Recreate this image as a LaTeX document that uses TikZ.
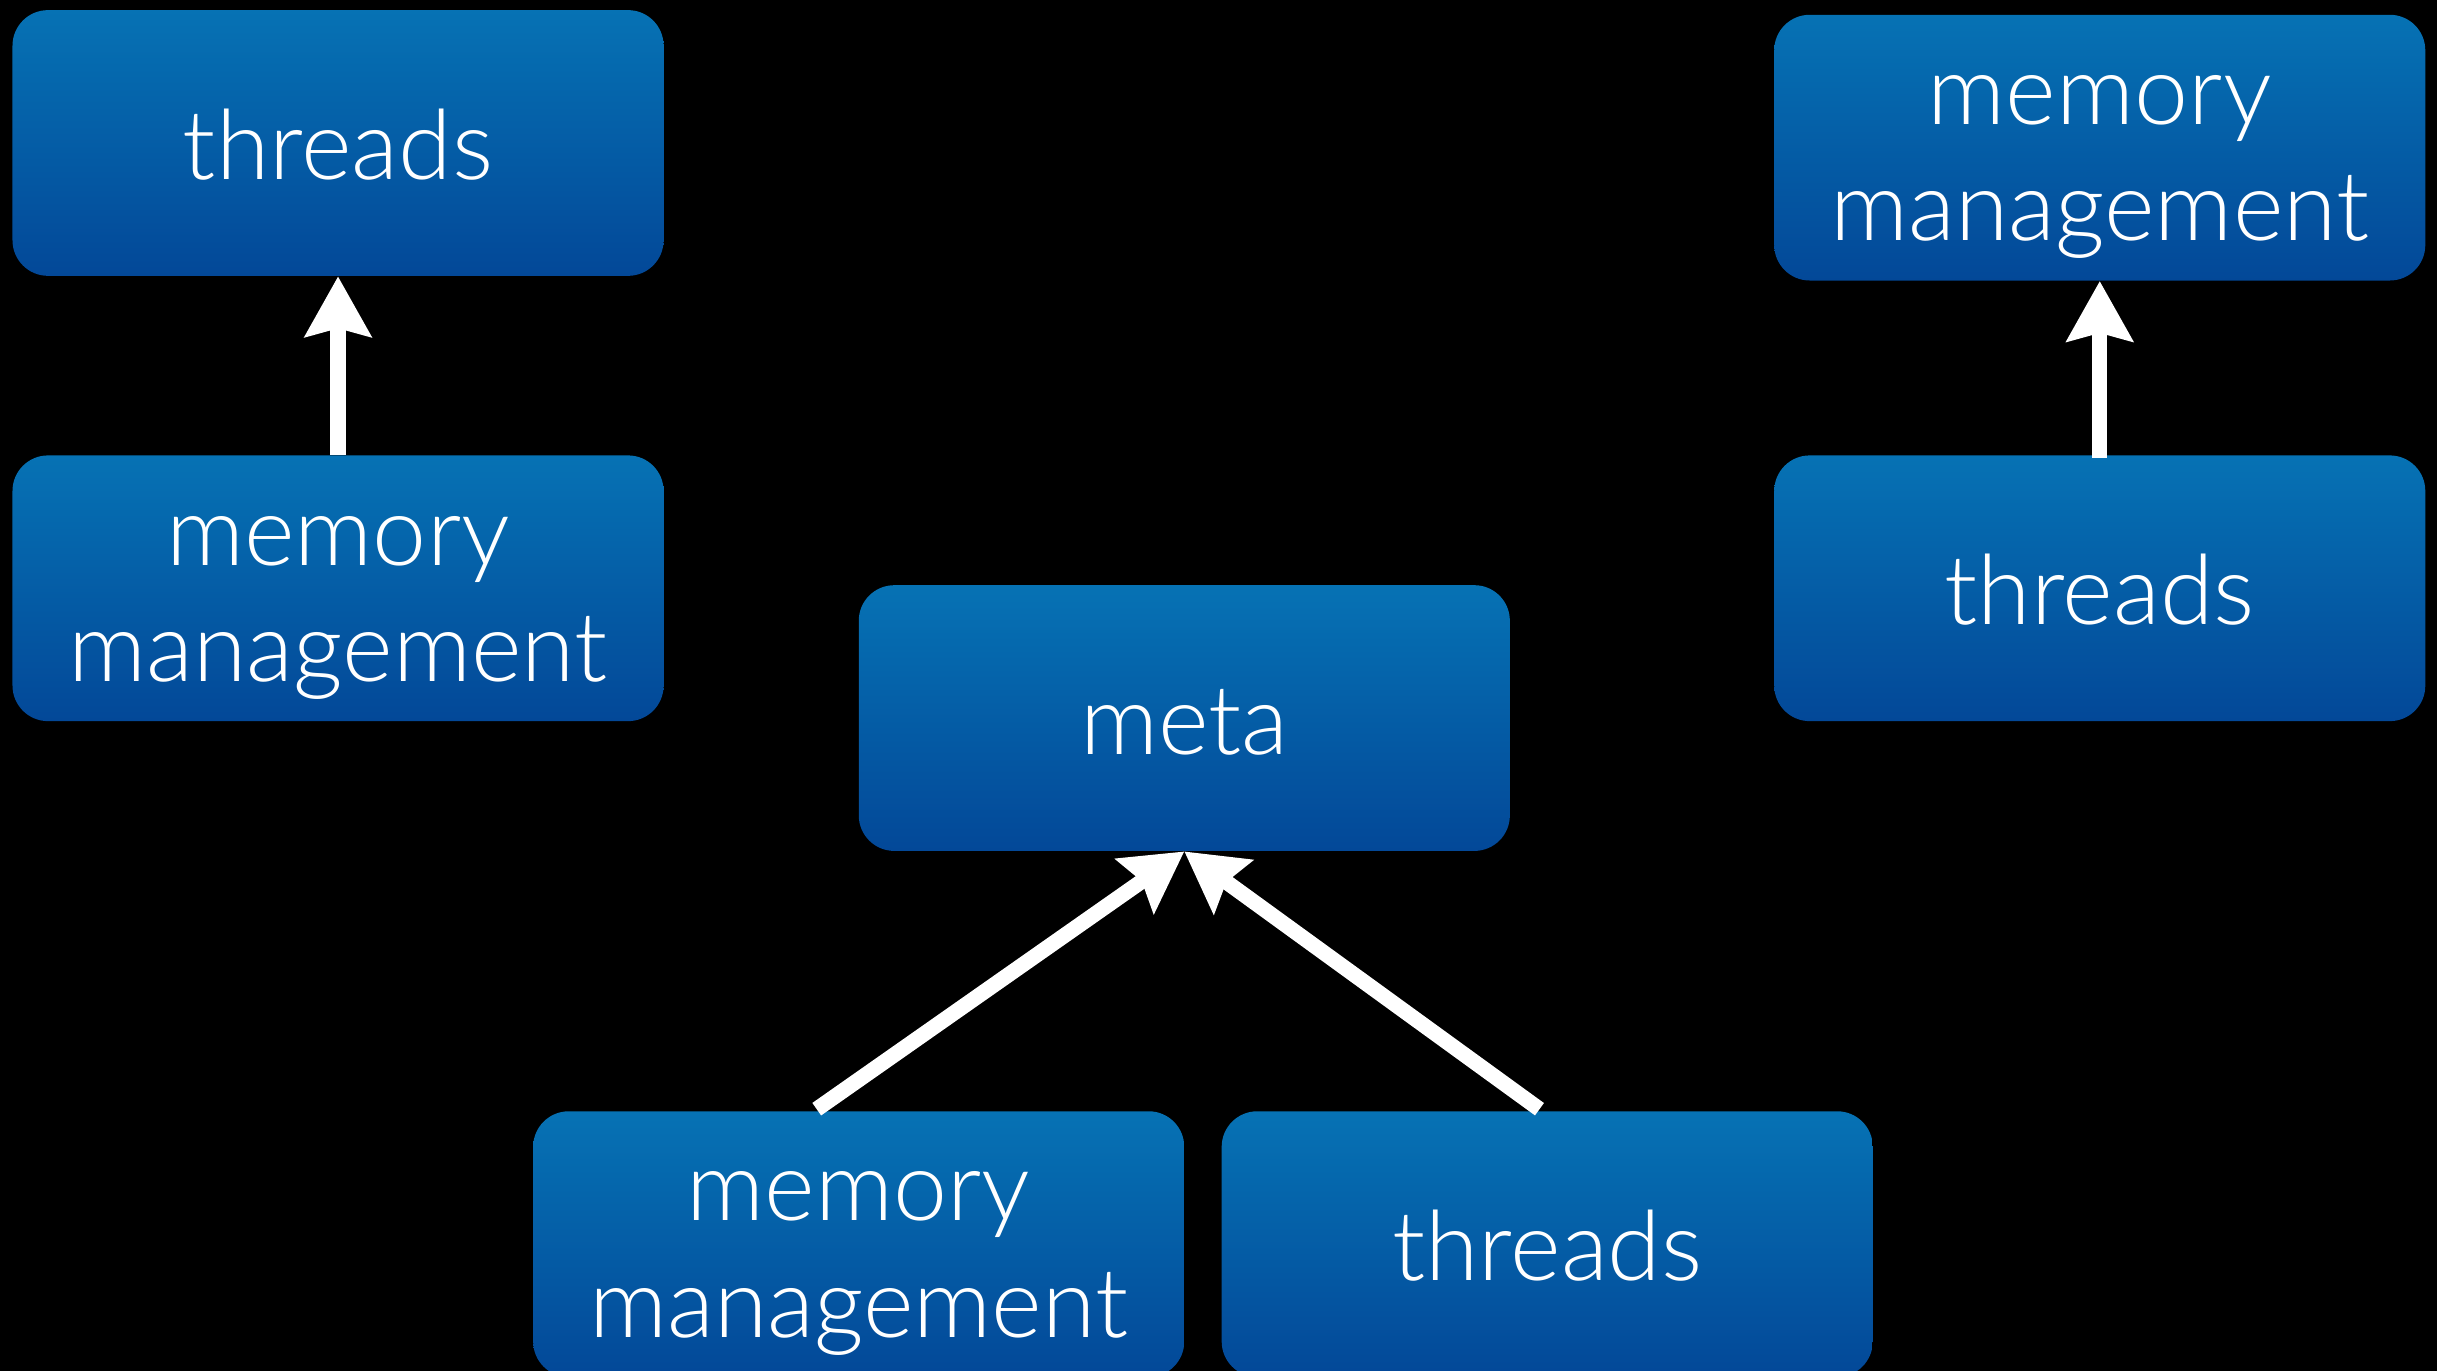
\documentclass[tikz,border=0pt]{standalone}
\usepackage{fontspec}
\setmainfont{Lato Light}
\usetikzlibrary{arrows.meta,calc}

\definecolor{boxtop}{RGB}{6,114,180}
\definecolor{boxbot}{RGB}{3,72,152}

\tikzset{
  modbox/.style={rectangle, rounded corners=13pt, inner sep=0pt,
    minimum width=8.38cm, minimum height=3.42cm,
    top color=boxtop, bottom color=boxbot, draw=none,
    text=white, align=center,
    font=\fontsize{35.5}{42.5}\selectfont},
  oneline/.style={modbox, text height=30pt, text depth=3.4pt},
  twoline/.style={modbox, text height=82pt, text depth=14pt},
  dep/.style={draw=white, line width=5.6pt,
    -{Stealth[length=22pt, width=24pt, inset=3pt]}}
}

\begin{document}
\begin{tikzpicture}[x=0.02cm, y=-0.02cm]
  \fill[black] (0,0) rectangle (1568,882);
  \useasboundingbox (0,0) rectangle (1568,882);
  \clip (0,0) rectangle (1568,882);

  % left pair
  \node[oneline] (lt) at (217.5,92) {threads};
  \node[twoline] (lm) at (217.5,378.5) {memory\\management};

  % right pair
  \node[twoline] (rm) at (1351,95) {memory\\management};
  \node[oneline] (rt) at (1351,378.5) {threads};

  % meta with its two parts
  \node[oneline] (meta) at (762,462) {meta};
  \node[twoline] (bm) at (552.5,800.5) {memory\\management};
  \node[oneline] (bt) at (995.5,800.5) {threads};

  \draw[dep] (lm.north) -- (lt.south);
  \draw[dep] ($(rt.north)+(0,2)$) -- (rm.south);
  \draw[dep] ($(bm.north)+(-27,-1)$) -- (meta.south);
  \draw[dep] ($(bt.north)+(-5,-1)$) -- (meta.south);
\end{tikzpicture}
\end{document}
